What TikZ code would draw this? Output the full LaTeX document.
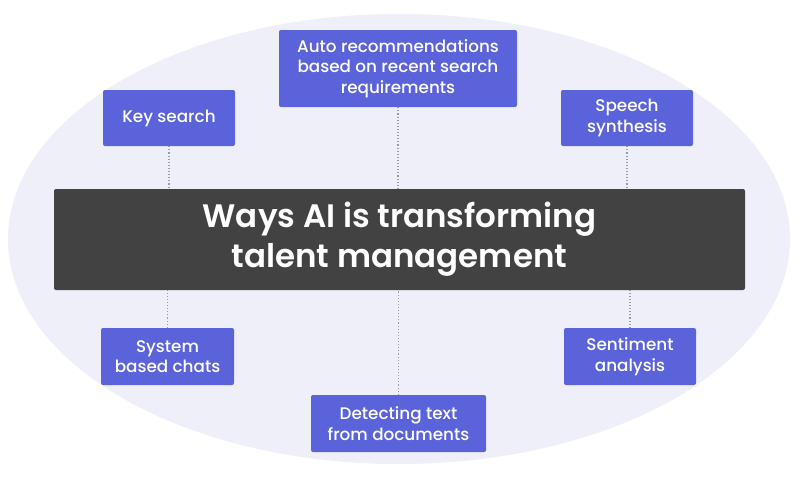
\documentclass[tikz,border=0pt]{standalone}
\usepackage{fontspec}
\setmainfont{Poppins}
\newfontfamily\medfont{Poppins Medium}
\newfontfamily\semifont{Poppins SemiBold}
\usetikzlibrary{shapes.geometric}
\definecolor{bgell}{HTML}{EEEFF9}
\definecolor{boxblue}{HTML}{5B63DB}
\definecolor{barcol}{HTML}{424242}
\definecolor{dotcol}{HTML}{9A9AA6}
\tikzset{
  px/.style={x=1pt,y=-1pt},
  itembox/.style={fill=boxblue,rounded corners=2pt,text=white,align=center,font=\medfont\fontsize{16.8}{20.5}\selectfont,inner sep=0pt},
  link/.style={draw=dotcol,dotted,line width=1.1pt},
}
\begin{document}
\begin{tikzpicture}[px]
\useasboundingbox (0,0) rectangle (800,480);
\fill[white] (0,0) rectangle (800,480);
\node[ellipse,fill=bgell,minimum width=782pt,minimum height=450pt,inner sep=0pt] (ell) at (399,239) {};
\node[fill=barcol,rounded corners=2pt,minimum width=691pt,minimum height=101pt,inner sep=0pt,text=white,align=center,font=\semifont\fontsize{32.5}{40}\selectfont] (bar) at (399.5,239.5) {Ways AI is transforming\\talent management};
\node[itembox,minimum width=132pt,minimum height=56pt] (key) at (169,118) {Key search};
\node[itembox,minimum width=238pt,minimum height=77pt] (auto) at (398,68.5) {Auto recommendations\\based on recent search\\requirements};
\node[itembox,minimum width=132pt,minimum height=56pt] (speech) at (627,118) {Speech\\synthesis};
\node[itembox,minimum width=133pt,minimum height=57pt] (sys) at (167.5,356.5) {System\\based chats};
\node[itembox,minimum width=175pt,minimum height=57pt] (det) at (398.5,423.5) {Detecting text\\from documents};
\node[itembox,minimum width=132pt,minimum height=57pt] (sent) at (630,356.5) {Sentiment\\analysis};
\draw[link] (key.south) -- (key.south |- bar.north);
\draw[link] (auto.south) -- (auto.south |- bar.north);
\draw[link] (speech.south) -- (speech.south |- bar.north);
\draw[link] (sys.north) -- (sys.north |- bar.south);
\draw[link] (det.north) -- (det.north |- bar.south);
\draw[link] (sent.north) -- (sent.north |- bar.south);
\end{tikzpicture}
\end{document}
